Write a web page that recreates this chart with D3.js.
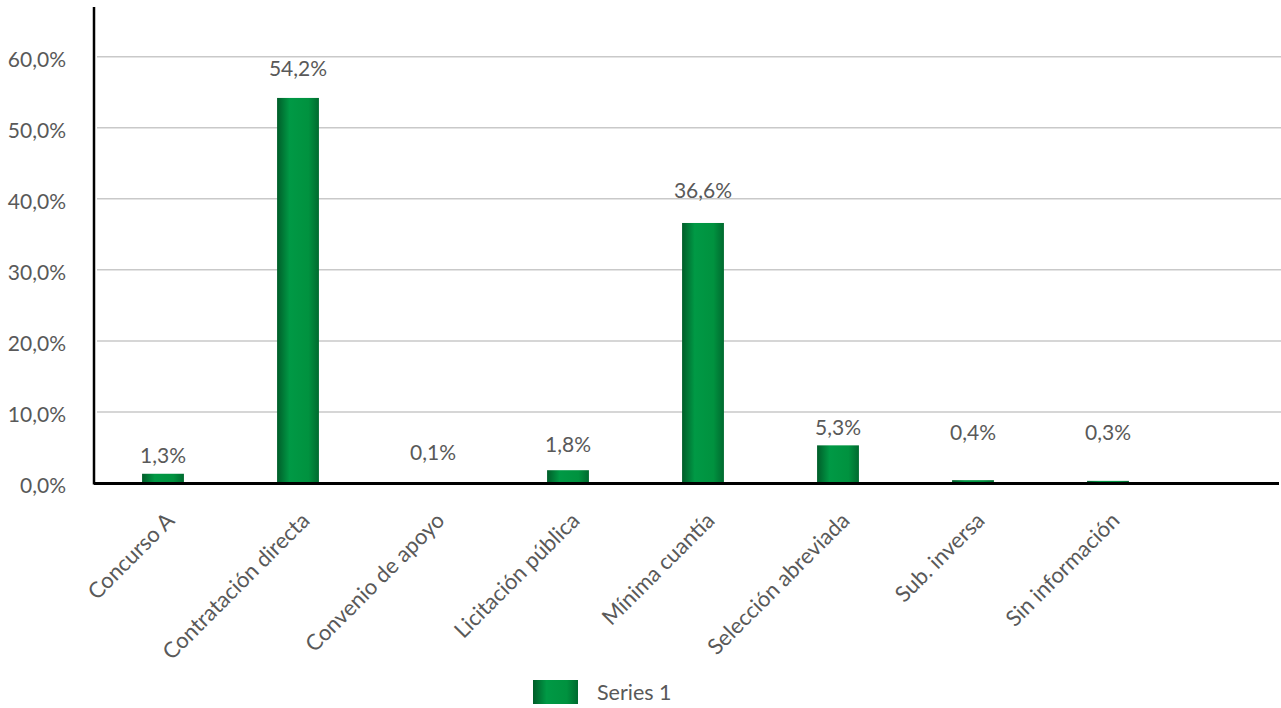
<!DOCTYPE html>
<html>
<head>
<meta charset="utf-8">
<script src="https://cdn.jsdelivr.net/npm/d3@7"></script>
<style>
  body { margin: 0; background: #fff; }
  text { font-family: Lato, "Noto Sans", sans-serif; fill: #595959; }
  .grid line { stroke: #c9c9c9; stroke-width: 1.5; }
</style>
</head>
<body>
<div id="chart"></div>
<script>
// data
var categories = ["Concurso A", "Contratación directa", "Convenio de apoyo", "Licitación pública",
                  "Mínima cuantía", "Selección abreviada", "Sub. inversa", "Sin información"];
var values = [0.013, 0.542, 0.001, 0.018, 0.366, 0.053, 0.004, 0.003];
var yTicks = [0, 0.1, 0.2, 0.3, 0.4, 0.5, 0.6];
var seriesName = "Series 1";

// how far each value label sits above its bar (pixels)
var labelLift = [11, 22, 22, 18, 25, 10, 40, 41];

function init() {
    var w = 1281, h = 708;
    var x0 = 94, x1 = 1279, yTop = 7, yBase = 483;

    var svg = d3.select("#chart")
        .append("svg")
        .attr("width", w)
        .attr("height", h);

    var es = d3.formatLocale({ decimal: ",", thousands: ".", grouping: [3], currency: ["", ""] });
    var pct = es.format(".1%");

    // bar gradient
    var grad = svg.append("defs").append("linearGradient")
        .attr("id", "barGrad")
        .attr("x1", "0%").attr("x2", "100%").attr("y1", "0%").attr("y2", "0%");
    grad.append("stop").attr("offset", "0%").attr("stop-color", "#005d29");
    grad.append("stop").attr("offset", "30%").attr("stop-color", "#009945");
    grad.append("stop").attr("offset", "75%").attr("stop-color", "#00923f");
    grad.append("stop").attr("offset", "100%").attr("stop-color", "#006a2f");

    var xScale = d3.scaleBand()
        .domain(categories)
        .range([95.5, 1175.5])
        .paddingInner(0.69)
        .paddingOuter(0.345);

    var yScale = d3.scaleLinear()
        .domain([0, 0.67])
        .range([yBase, yTop]);

    // gridlines
    svg.append("g")
        .attr("class", "grid")
        .selectAll("line")
        .data(yTicks.slice(1))
        .join("line")
        .attr("x1", x0 + 3)
        .attr("x2", w)
        .attr("y1", d => yScale(d))
        .attr("y2", d => yScale(d));

    // y axis labels
    var yAxis = d3.axisLeft(yScale)
        .tickValues(yTicks)
        .tickFormat(pct)
        .tickSize(0)
        .tickPadding(28);

    var yg = svg.append("g")
        .attr("transform", "translate(" + x0 + ",0)")
        .call(yAxis);
    yg.select(".domain").remove();
    yg.selectAll("text")
        .style("font-size", "21px")
        .attr("fill", "#595959")
        .attr("dy", "0.45em");

    // bars
    svg.selectAll("rect.bar")
        .data(values)
        .join("rect")
        .attr("class", "bar")
        .attr("x", (d, i) => xScale(categories[i]))
        .attr("width", xScale.bandwidth())
        .attr("y", d => yScale(d))
        .attr("height", d => yBase - yScale(d))
        .attr("fill", "url(#barGrad)");

    // value labels
    svg.selectAll("text.val")
        .data(values)
        .join("text")
        .attr("class", "val")
        .attr("x", (d, i) => xScale(categories[i]) + xScale.bandwidth() / 2)
        .attr("y", (d, i) => yScale(d) - labelLift[i])
        .attr("text-anchor", "middle")
        .style("font-size", "21px")
        .text(d => pct(d));

    // axis lines
    svg.append("line")
        .attr("x1", x0).attr("x2", x0)
        .attr("y1", yTop).attr("y2", yBase + 1.5)
        .attr("stroke", "#000").attr("stroke-width", 2.5);
    svg.append("line")
        .attr("x1", x0).attr("x2", x1)
        .attr("y1", yBase + 0.5).attr("y2", yBase + 0.5)
        .attr("stroke", "#000").attr("stroke-width", 3);

    // category labels
    svg.selectAll("text.cat")
        .data(categories)
        .join("text")
        .attr("class", "cat")
        .attr("transform", d => "translate(" + (xScale(d) + xScale.bandwidth() / 2 + 2) + "," + (yBase + 28) + ") rotate(-45)")
        .attr("text-anchor", "end")
        .attr("dy", "0.7em")
        .style("font-size", "22px")
        .text(d => d);

    // legend
    var lg = svg.append("g").attr("transform", "translate(533,680)");
    lg.append("rect")
        .attr("width", 45)
        .attr("height", 24)
        .attr("fill", "url(#barGrad)");
    lg.append("text")
        .attr("x", 64)
        .attr("y", 12)
        .attr("dy", "0.35em")
        .style("font-size", "21.5px")
        .text(seriesName);
}

init();
</script>
</body>
</html>
